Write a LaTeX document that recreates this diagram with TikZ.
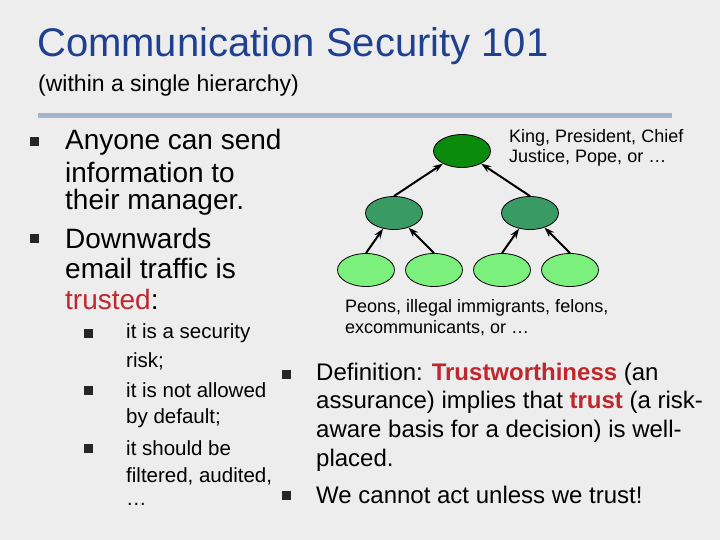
\documentclass[tikz,border=0pt]{standalone}
\usepackage{fontspec}
\usetikzlibrary{shapes.geometric,arrows.meta}
\setmainfont{Liberation Sans}
\definecolor{bg}{HTML}{EDEDED}
\definecolor{ttl}{HTML}{1F3F8F}
\definecolor{rule}{HTML}{A3B5CF}
\definecolor{dg}{HTML}{0B8A0B}
\definecolor{mg}{HTML}{3A9A64}
\definecolor{lg}{HTML}{7CF07C}
\definecolor{red}{HTML}{C0272D}
\begin{document}
\begin{tikzpicture}[x=1pt,y=-1pt,
 txt/.style={anchor=west,inner sep=0pt,font=\fontsize{28}{28}\selectfont},
 stx/.style={anchor=west,inner sep=0pt,font=\fontsize{20.5}{20}\selectfont},
 rtx/.style={anchor=west,inner sep=0pt,font=\fontsize{24}{24}\selectfont},
 lbl/.style={anchor=west,inner sep=0pt,font=\fontsize{18}{18}\selectfont},
 bul/.style={fill=black!85,minimum size=9pt,inner sep=0pt},
 ell/.style={ellipse,draw=black,line width=0.8pt,minimum width=57pt,minimum height=33pt,inner sep=0pt},
 arr/.style={-{Stealth[length=10pt,width=7pt]},line width=2pt}]
\useasboundingbox[fill=bg] (0,0) rectangle (720,540);
\node[anchor=west,inner sep=0pt,text=ttl,font=\fontsize{40}{40}\selectfont] (t) at (37,46) {Communication Security 101};
\node[anchor=west,inner sep=0pt,font=\fontsize{23}{23}\selectfont] (st) at (38,86) {(within a single hierarchy)};
\fill[rule] (38,113) rectangle (672,118);
% left bullets
\node[bul] (b1) at (34,142) {}; \node[bul] (b2) at (34,238) {};
\node[txt] (l1) at (65,142) {Anyone can send};
\node[txt] (l2) at (65,172) {information to};
\node[txt] (l3) at (65,202) {their manager.};
\node[txt] (l4) at (65,238) {Downwards};
\node[txt] (l5) at (65,268) {email traffic is};
\node[txt] (l6) at (65,299) {\textcolor{red}{trusted}:};
\node[bul] (s1) at (88,333) {}; \node[bul] (s2) at (88,390) {}; \node[bul] (s3) at (88,448) {};
\node[stx] (k1) at (126,333) {it is a security};
\node[stx] (k2) at (126,361) {risk;};
\node[stx] (k3) at (126,390) {it is not allowed};
\node[stx] (k4) at (126,418) {by default;};
\node[stx] (k5) at (126,448) {it should be};
\node[stx] (k6) at (126,476) {filtered, audited,};
\node[stx] (k7) at (126,504) {\dots};
\node[bul] (r1) at (286,374) {}; \node[bul] (r2) at (286,495) {};
\node[rtx] (q1) at (316,374) {Definition: \textcolor{red}{\textbf{Trustworthiness}} (an};
\node[rtx] (q2) at (316,402) {assurance) implies that \textcolor{red}{\textbf{trust}} (a risk-};
\node[rtx] (q3) at (316,431) {aware basis for a decision) is well-};
\node[rtx] (q4) at (316,460) {placed.};
\node[rtx] (q5) at (316,495) {We cannot act unless we trust!};
% labels
\node[lbl] (a1) at (509,138) {King, President, Chief};
\node[lbl] (a2) at (509,158) {Justice, Pope, or \dots};
\node[lbl] (p1) at (345,308) {Peons, illegal immigrants, felons,};
\node[lbl] (p2) at (345,328) {excommunicants, or \dots};
% tree
\node[ell,fill=dg] (root) at (462,151) {};
\node[ell,fill=mg] (m1) at (394,213) {};
\node[ell,fill=mg] (m2) at (530,213) {};
\node[ell,fill=lg] (f1) at (366,270) {};
\node[ell,fill=lg] (f2) at (434,270) {};
\node[ell,fill=lg] (f3) at (502,270) {};
\node[ell,fill=lg] (f4) at (570,270) {};
\draw[arr] (m1.north) -- (root);
\draw[arr] (m2.north) -- (root);
\draw[arr] (f1.north) -- (m1);
\draw[arr] (f2.north) -- (m1);
\draw[arr] (f3.north) -- (m2);
\draw[arr] (f4.north) -- (m2);
\end{tikzpicture}
\end{document}
